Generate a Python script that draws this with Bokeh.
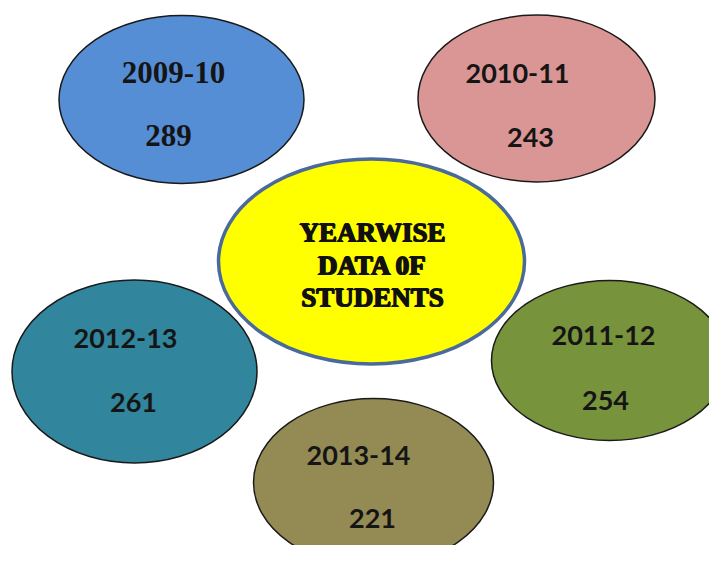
from bokeh.plotting import figure
from bokeh.models import Range1d, ColumnDataSource
from bokeh.core.properties import value
from bokeh.embed import file_html
from bokeh.resources import INLINE

# ---- data ----
years = ["2009-10", "2010-11", "2011-12", "2012-13", "2013-14"]
students = [289, 243, 254, 261, 221]
title_lines = ["YEARWISE", "DATA 0F", "STUDENTS"]

# ---- layout (image pixel coordinates) ----
colors = ["#558ed5", "#d99694", "#77933c", "#31859c", "#948a54"]
cx = [181, 536, 609, 134, 373]
cy = [99, 98, 360, 371, 482]
ew = [245, 237, 236, 245, 240]
eh = [168, 167, 160, 183, 168]
year_xy = [(173, 72), (517, 73), (603, 335), (125, 338), (358, 455)]
val_xy = [(168, 135), (530, 137), (605, 400), (133, 402), (372, 518)]
fonts = ["Liberation Serif", "Lato", "Lato", "Lato", "Lato"]
sizes = ["31px", "27px", "27px", "27px", "27px"]

W, H = 709, 545
p = figure(width=W, height=H, output_backend="svg", toolbar_location=None,
           x_range=Range1d(0, W), y_range=Range1d(-H, 0),
           min_border=0)
p.axis.visible = False
p.grid.visible = False
p.outline_line_color = None
p.background_fill_color = "white"

src = ColumnDataSource(dict(x=cx, y=[-v for v in cy], w=ew, h=eh, c=colors))
p.ellipse(x="x", y="y", width="w", height="h", fill_color="c",
          line_color="#1a1a1a", line_width=1.5, source=src)

# center ellipse
p.ellipse(x=[371], y=[-261], width=[306], height=[205], fill_color="#ffff00",
          line_color="#4a6a9c", line_width=3.5)

for i in range(len(years)):
    p.text(x=[year_xy[i][0]], y=[-year_xy[i][1]], text=[years[i]],
           text_font=value(fonts[i]), text_font_style="bold",
           text_font_size=sizes[i], text_color="#151515",
           text_align="center", text_baseline="middle")
    p.text(x=[val_xy[i][0]], y=[-val_xy[i][1]], text=[str(students[i])],
           text_font=value(fonts[i]), text_font_style="bold",
           text_font_size=sizes[i], text_color="#151515",
           text_align="center", text_baseline="middle")

ty = [232, 265, 297]
for dx, dy in ((-0.8, 0), (0.8, 0), (0, 0.6), (0, -0.6)):
    p.text(x=[372 + dx] * 3, y=[-v + dy for v in ty], text=title_lines,
           text_font=value("Liberation Serif"), text_font_style="bold",
           text_font_size="27px", text_color="#111111",
           text_align="center", text_baseline="middle")

open("out.html", "w").write(file_html(p, INLINE))
